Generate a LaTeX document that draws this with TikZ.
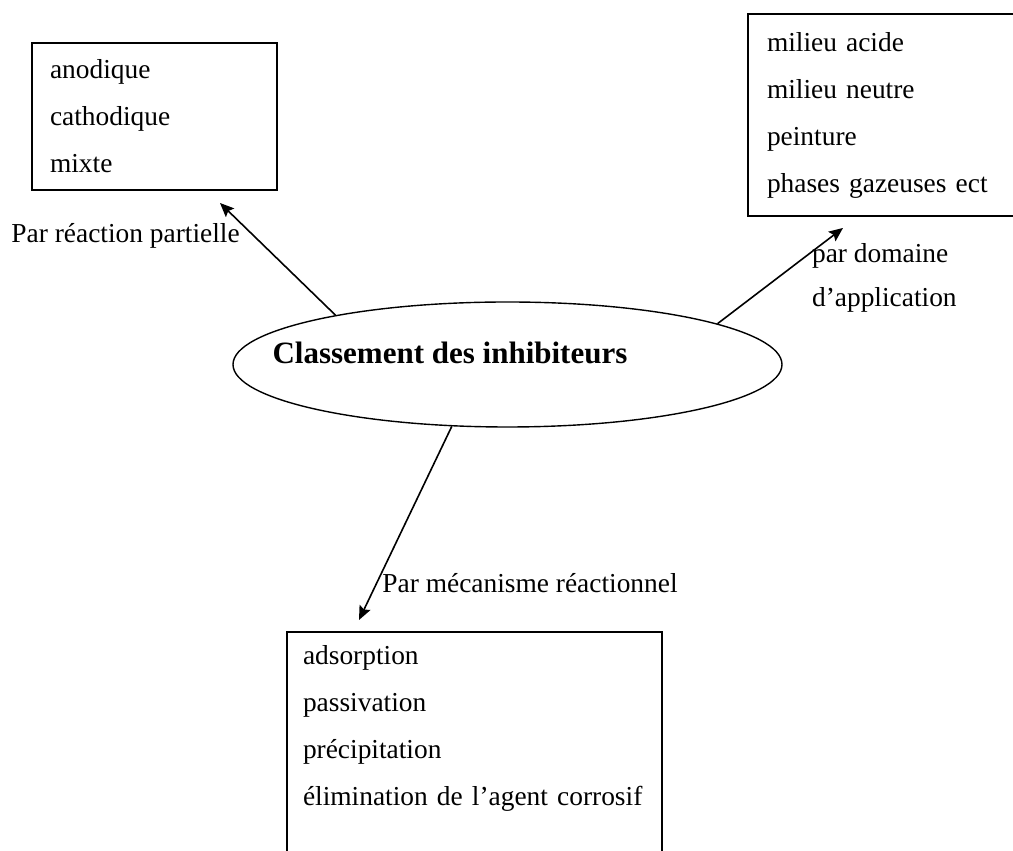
\documentclass[tikz,border=0pt]{standalone}
\usepackage{fontspec}
\setmainfont{Liberation Serif}
\usetikzlibrary{arrows.meta,positioning,shapes.geometric}

\begin{document}
\begin{tikzpicture}[x=1pt,y=1pt]

\tikzset{myarrow/.style={-{Stealth[length=14pt,width=12pt,inset=2.5pt]}, line width=1.6pt},
  itembox/.style={draw, rectangle, line width=1.8pt, align=left, inner ysep=0pt,
    font=\fontsize{27.4}{47}\selectfont},
  lbl/.style={inner sep=0pt, align=left, font=\fontsize{27.4}{44}\selectfont}}

    \path[use as bounding box, clip] (0,0) rectangle (1013,851);

    % Centre ellipse
    \node[draw, ellipse, line width=1.4pt, minimum width=549pt, minimum height=125pt,
    inner sep=0pt] (ell) at (507.5,486.5) {};
    \node[inner sep=0pt, font=\fontsize{31}{36}\selectfont\bfseries] (title) at (450,498)
    {Classement des inhibiteurs};

    % Left box
    \node[itembox, inner xsep=18pt, text width=209pt, minimum width=245pt,
    minimum height=147pt] (reac) at (154.5,734.5)
    {anodique\\cathodique\\mixte};

    % Right box
    \node[itembox, inner xsep=19pt, text width=234pt, minimum width=272pt,
    minimum height=202pt] (dom) at (884,736)
    {milieu acide\\milieu neutre\\peinture\\phases gazeuses ect};

    % Bottom box
    \node[itembox, anchor=north, inner xsep=16pt, inner ysep=14pt, text width=343pt,
    minimum width=375pt] (meca) at (474.5,220)
    {adsorption\\passivation\\précipitation\\élimination de l’agent corrosif\\~};

    % Arrow tips
    \coordinate (tipreac) at (220,648);
    \coordinate (tipdom) at (843,623);
    \coordinate (tipmeca) at (359,231);

    \draw[myarrow] (ell.164) -- node[lbl, pos=0.71, left=13pt] {Par réaction partielle} (tipreac);
    \draw[myarrow] (ell.11.7) -- node[lbl, pos=0.5, right=31pt, yshift=-2pt] {par domaine\\d’application} (tipdom);
    \draw[myarrow] (ell.228.4) -- node[lbl, pos=0.81, right=5pt] {Par mécanisme réactionnel} (tipmeca);

\end{tikzpicture}
\end{document}
